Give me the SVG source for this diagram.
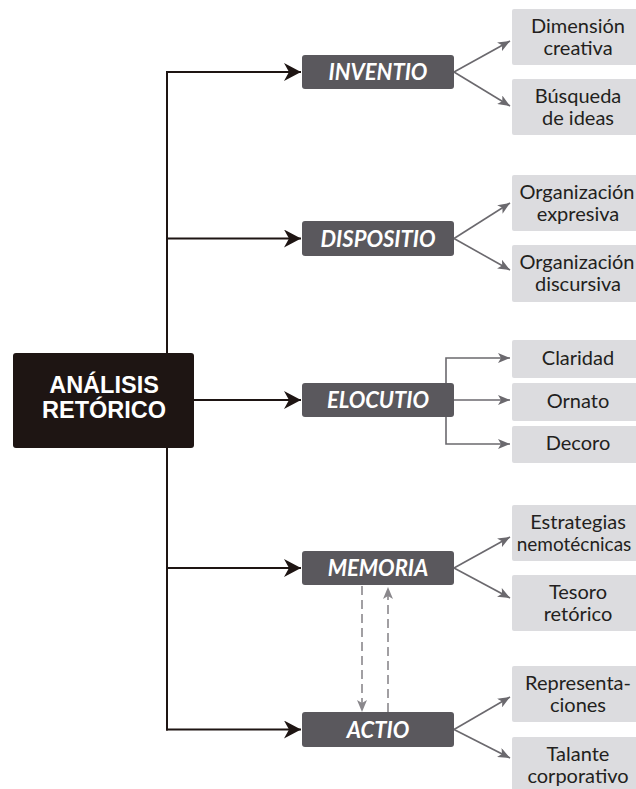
<svg xmlns="http://www.w3.org/2000/svg" width="636" height="789" viewBox="0 0 636 789">
<style>
.bg{fill:#ffffff}
.root{fill:#1e1513}
.roottxt{font-family:"Liberation Sans",Arial,sans-serif;font-weight:bold;font-size:23.5px;fill:#ffffff;text-anchor:middle}
.mid{fill:#5a585d}
.midtxt{font-family:Lato,"Open Sans",sans-serif;font-weight:bold;font-style:italic;font-size:22px;fill:#ffffff;text-anchor:middle}
.leaf{fill:#dcdcdf}
.leaftxt{font-family:Lato,"Open Sans",sans-serif;font-size:20px;fill:#231f20;text-anchor:middle}
.main{fill:none;stroke:#1e1513;stroke-width:2}
.br{fill:none;stroke:#6b696e;stroke-width:1.6}
.dash{fill:none;stroke:#8a888c;stroke-width:1.6;stroke-dasharray:9 5}
</style>
<defs>
<marker id="ahMain" markerUnits="userSpaceOnUse" viewBox="0 0 17 18" refX="17" refY="9" markerWidth="17" markerHeight="18" orient="auto">
<path d="M0,0 L17,9 L0,18 L5,9 Z" fill="#1e1513"/>
</marker>
<marker id="ahBr" markerUnits="userSpaceOnUse" viewBox="0 0 12 10" refX="12" refY="5" markerWidth="12" markerHeight="10" orient="auto">
<path d="M0,0 L12,5 L0,10 L3,5 Z" fill="#6b696e"/>
</marker>
<marker id="ahDash" markerUnits="userSpaceOnUse" viewBox="0 0 12 10" refX="12" refY="5" markerWidth="12" markerHeight="10" orient="auto">
<path d="M0,0 L12,5 L0,10 L3,5 Z" fill="#8a888c"/>
</marker>
</defs>
<rect class="bg" x="0" y="0" width="636" height="789"/>

<g id="connectors">
<path class="main" d="M167,71 V730.5"/>
<path class="main" d="M166,72 H301" marker-end="url(#ahMain)"/>
<path class="main" d="M167,238.5 H301" marker-end="url(#ahMain)"/>
<path class="main" d="M194,400 H301" marker-end="url(#ahMain)"/>
<path class="main" d="M167,568 H301" marker-end="url(#ahMain)"/>
<path class="main" d="M166,729.5 H301" marker-end="url(#ahMain)"/>

<path class="br" d="M454,72 L510,41" marker-end="url(#ahBr)"/>
<path class="br" d="M454,72 L510,106" marker-end="url(#ahBr)"/>
<path class="br" d="M454,238.5 L510,203" marker-end="url(#ahBr)"/>
<path class="br" d="M454,238.5 L510,270" marker-end="url(#ahBr)"/>
<path class="br" d="M446,383 V358 H510" marker-end="url(#ahBr)"/>
<path class="br" d="M454,400 H510" marker-end="url(#ahBr)"/>
<path class="br" d="M446,417 V444 H510" marker-end="url(#ahBr)"/>
<path class="br" d="M454,568 L510,537" marker-end="url(#ahBr)"/>
<path class="br" d="M454,568 L510,598" marker-end="url(#ahBr)"/>
<path class="br" d="M454,729.5 L510,697" marker-end="url(#ahBr)"/>
<path class="br" d="M454,729.5 L510,758" marker-end="url(#ahBr)"/>

<path class="dash" d="M362,586 V712" marker-end="url(#ahDash)"/>
<path class="dash" d="M388,712 V587" marker-end="url(#ahDash)"/>
</g>

<g id="analisis">
<rect class="root" x="13" y="353" width="181" height="95" rx="3"/>
<text class="roottxt" x="104" y="393">ANÁLISIS</text>
<text class="roottxt" x="104" y="418">RETÓRICO</text>
</g>

<g id="inventio">
<rect class="mid" x="302" y="55" width="152" height="34" rx="3"/>
<text class="midtxt" x="378" y="79.5">INVENTIO</text>
</g>
<g id="dispositio">
<rect class="mid" x="302" y="221" width="152" height="35" rx="3"/>
<text class="midtxt" x="378" y="246.5">DISPOSITIO</text>
</g>
<g id="elocutio">
<rect class="mid" x="302" y="383" width="152" height="34" rx="3"/>
<text class="midtxt" x="378" y="408">ELOCUTIO</text>
</g>
<g id="memoria">
<rect class="mid" x="302" y="551" width="152" height="34" rx="3"/>
<text class="midtxt" x="378" y="576">MEMORIA</text>
</g>
<g id="actio">
<rect class="mid" x="302" y="712" width="152" height="35" rx="3"/>
<text class="midtxt" x="378" y="737.5">ACTIO</text>
</g>

<g id="dimension-creativa">
<rect class="leaf" x="512" y="9" width="130" height="56" rx="2"/>
<text class="leaftxt" x="578" y="33">Dimensión</text>
<text class="leaftxt" x="578" y="55">creativa</text>
</g>
<g id="busqueda-ideas">
<rect class="leaf" x="512" y="79" width="130" height="56" rx="2"/>
<text class="leaftxt" x="578" y="103">Búsqueda</text>
<text class="leaftxt" x="578" y="125">de ideas</text>
</g>
<g id="organizacion-expresiva">
<rect class="leaf" x="512" y="175" width="130" height="56" rx="2"/>
<text class="leaftxt" x="577" y="199">Organización</text>
<text class="leaftxt" x="578" y="221">expresiva</text>
</g>
<g id="organizacion-discursiva">
<rect class="leaf" x="512" y="245" width="130" height="57" rx="2"/>
<text class="leaftxt" x="577" y="269">Organización</text>
<text class="leaftxt" x="578" y="291">discursiva</text>
</g>
<g id="claridad">
<rect class="leaf" x="512" y="340" width="130" height="38" rx="2"/>
<text class="leaftxt" x="578" y="365">Claridad</text>
</g>
<g id="ornato">
<rect class="leaf" x="512" y="383" width="130" height="38" rx="2"/>
<text class="leaftxt" x="578" y="408">Ornato</text>
</g>
<g id="decoro">
<rect class="leaf" x="512" y="426" width="130" height="37" rx="2"/>
<text class="leaftxt" x="578" y="450">Decoro</text>
</g>
<g id="estrategias">
<rect class="leaf" x="512" y="505" width="130" height="56" rx="2"/>
<text class="leaftxt" x="578" y="529">Estrategias</text>
<text class="leaftxt" x="574" y="551" style="font-size:19px">nemotécnicas</text>
</g>
<g id="tesoro">
<rect class="leaf" x="512" y="575" width="130" height="56" rx="2"/>
<text class="leaftxt" x="578" y="599">Tesoro</text>
<text class="leaftxt" x="578" y="621">retórico</text>
</g>
<g id="representaciones">
<rect class="leaf" x="512" y="666" width="130" height="56" rx="2"/>
<text class="leaftxt" x="578" y="690">Representa-</text>
<text class="leaftxt" x="578" y="712">ciones</text>
</g>
<g id="talante">
<rect class="leaf" x="512" y="737" width="130" height="60" rx="2"/>
<text class="leaftxt" x="578" y="761">Talante</text>
<text class="leaftxt" x="578" y="783">corporativo</text>
</g>
</svg>
